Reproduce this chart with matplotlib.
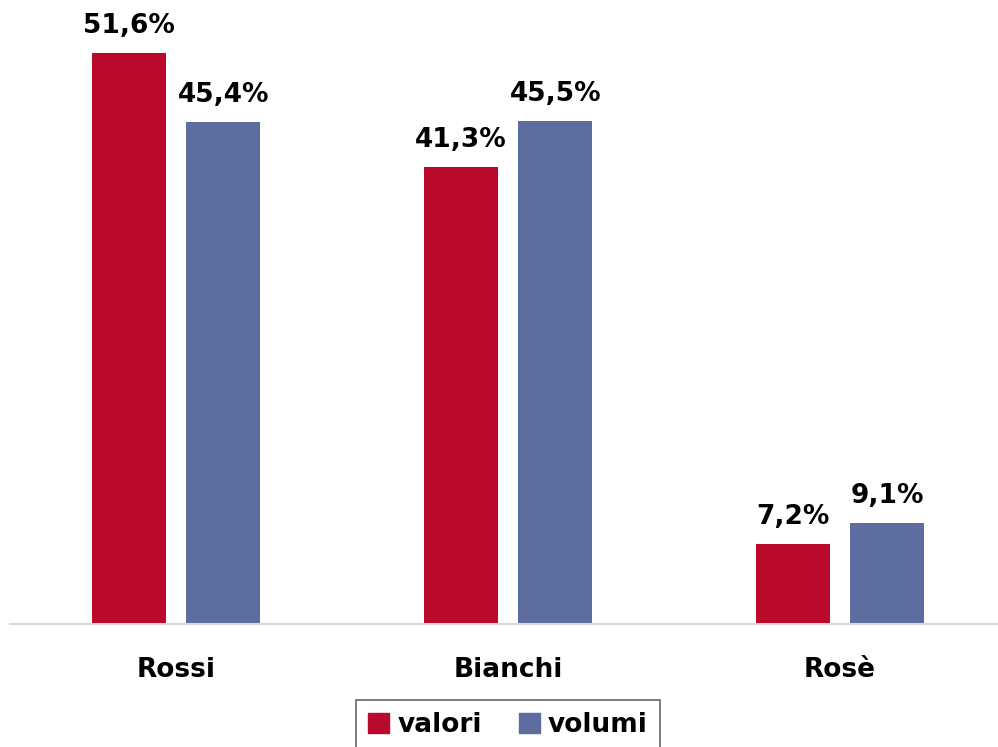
import numpy as np
import matplotlib.pyplot as plt
from matplotlib.patches import Patch

categorie = ['Rossi', 'Bianchi', 'Rosè']
valori = [51.6, 41.3, 7.2]
volumi = [45.4, 45.5, 9.1]
serie = ['valori', 'volumi']

rosso = '#BA0A2B'
blu = '#5E6DA0'

plt.rcParams['font.family'] = ['DejaVu Sans']
plt.rcParams['font.weight'] = 'bold'

fig = plt.figure(figsize=(9.98, 7.47), dpi=100)
ax = fig.add_axes([10/998, 123/747, 988/998, 624/747])

x = np.arange(len(categorie))
w = 0.223
off = 0.143
b1 = ax.bar(x - off, valori, w, color=rosso)
b2 = ax.bar(x + off, volumi, w, color=blu)

def fmt(v):
    return '{0:.1f}%'.format(v).replace('.', ',')

for bars, vals in [(b1, valori), (b2, volumi)]:
    for b, v in zip(bars, vals):
        ax.annotate(fmt(v), (b.get_x() + b.get_width()/2, v),
                    xytext=(0, 10), textcoords='offset points',
                    ha='center', va='bottom', fontsize=19, fontweight='bold')

ax.set_xlim(-0.5, -0.5 + 988/332)
ax.set_ylim(0, 56.4)
ax.set_yticks([])
ax.set_xticks(x)
ax.set_xticklabels(categorie, fontsize=19, fontweight='bold')
ax.tick_params(axis='x', length=0, pad=24)
for s in ['top', 'right', 'left']:
    ax.spines[s].set_visible(False)
ax.spines['bottom'].set_color('#d9d9d9')
ax.spines['bottom'].set_linewidth(1.5)

handles = [Patch(color=rosso), Patch(color=blu)]
leg = fig.legend(handles, serie, loc='upper center', bbox_to_anchor=(508/998, 1 - 700/747),
                 ncol=2, fontsize=19, frameon=True, fancybox=False, borderaxespad=0,
                 handlelength=0.8, handleheight=0.8, handletextpad=0.3,
                 columnspacing=1.4, borderpad=0.45)
leg.get_frame().set_edgecolor('#404040')
leg.get_frame().set_linewidth(1.2)

fig.savefig('out.png', dpi=100)
